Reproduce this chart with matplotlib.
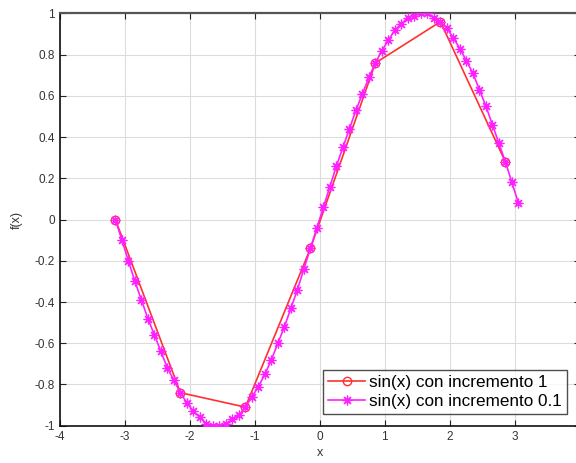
import matplotlib
matplotlib.use('Agg')
import matplotlib.pyplot as plt

plt.rcParams['font.family'] = ['Liberation Sans', 'DejaVu Sans']

# sin(x) con incremento 1
x1 = [-3.14, -2.14, -1.14, -0.14, 0.86, 1.86, 2.86]
y1 = [0.00, -0.84, -0.91, -0.14, 0.76, 0.96, 0.28]

# sin(x) con incremento 0.1
x2 = [-3.14, -3.04, -2.94, -2.84, -2.74, -2.64, -2.54, -2.44, -2.34, -2.24,
      -2.14, -2.04, -1.94, -1.84, -1.74, -1.64, -1.54, -1.44, -1.34, -1.24,
      -1.14, -1.04, -0.94, -0.84, -0.74, -0.64, -0.54, -0.44, -0.34, -0.24,
      -0.14, -0.04, 0.06, 0.16, 0.26, 0.36, 0.46, 0.56, 0.66, 0.76,
      0.86, 0.96, 1.06, 1.16, 1.26, 1.36, 1.46, 1.56, 1.66, 1.76,
      1.86, 1.96, 2.06, 2.16, 2.26, 2.36, 2.46, 2.56, 2.66, 2.76,
      2.86, 2.96, 3.06]
y2 = [0.00, -0.10, -0.20, -0.30, -0.39, -0.48, -0.56, -0.64, -0.72, -0.78,
      -0.84, -0.89, -0.93, -0.96, -0.99, -1.00, -1.00, -0.99, -0.97, -0.95,
      -0.91, -0.86, -0.81, -0.75, -0.68, -0.60, -0.52, -0.43, -0.34, -0.24,
      -0.14, -0.04, 0.06, 0.16, 0.26, 0.35, 0.44, 0.53, 0.61, 0.69,
      0.76, 0.82, 0.87, 0.92, 0.95, 0.98, 0.99, 1.00, 1.00, 0.98,
      0.96, 0.93, 0.88, 0.83, 0.77, 0.71, 0.63, 0.55, 0.46, 0.37,
      0.28, 0.18, 0.08]

xticks = [-4, -3, -2, -1, 0, 1, 2, 3, 4]
xtick_labels = ['-4', '-3', '-2', '-1', '0', '1', '2', '3', '']  # 4 falls outside the crop
yticks = [-1, -0.8, -0.6, -0.4, -0.2, 0, 0.2, 0.4, 0.6, 0.8, 1]
ytick_labels = ['-1', '-0.8', '-0.6', '-0.4', '-0.2', '0', '0.2', '0.4', '0.6', '0.8', '1']

fig = plt.figure(figsize=(5.76, 4.63), dpi=100)
# right edge of the axes sits just outside the image, like the cropped original
ax = fig.add_axes([0.1033, 0.0806, 0.9028, 0.8903])

ax.plot(x1, y1, color='#ff3030', marker='o', markersize=6, markerfacecolor='none',
        linewidth=1.2, label='sin(x) con incremento 1', zorder=3)
ax.plot(x2, y2, color='#ff20ff', marker=(8, 2, 0), markersize=7, markeredgewidth=0.9,
        linewidth=1.2, label='sin(x) con incremento 0.1', zorder=4)

ax.set_xlim(-4, 4)
ax.set_ylim(-1, 1)
ax.set_xticks(xticks)
ax.set_xticklabels(xtick_labels)
ax.set_yticks(yticks)
ax.set_yticklabels(ytick_labels)
ax.grid(True, color='#dcdcdc', linewidth=0.8)
ax.set_axisbelow(True)
ax.tick_params(direction='in', top=True, right=True, length=4, labelsize=8.5,
               colors='#222222', labelcolor='#333333')
for s in ['left', 'bottom']:
    ax.spines[s].set_color('#111111')
    ax.spines[s].set_linewidth(1.2)
ax.spines['top'].set_color('#555555')
ax.spines['top'].set_linewidth(1.6)

ax.set_xlabel('x', fontsize=9, color='#333333', labelpad=3)
ax.set_ylabel('f(x)', fontsize=9, color='#333333', labelpad=8)

leg = ax.legend(loc='lower right', bbox_to_anchor=(0.982, 0.02), fontsize=12.3,
                frameon=True, fancybox=False, edgecolor='#222222',
                handlelength=2.2, handletextpad=0.2, borderpad=0.3,
                labelspacing=0.25, borderaxespad=0.2)
leg.get_frame().set_linewidth(1.0)

fig.savefig('out.png', dpi=100)
